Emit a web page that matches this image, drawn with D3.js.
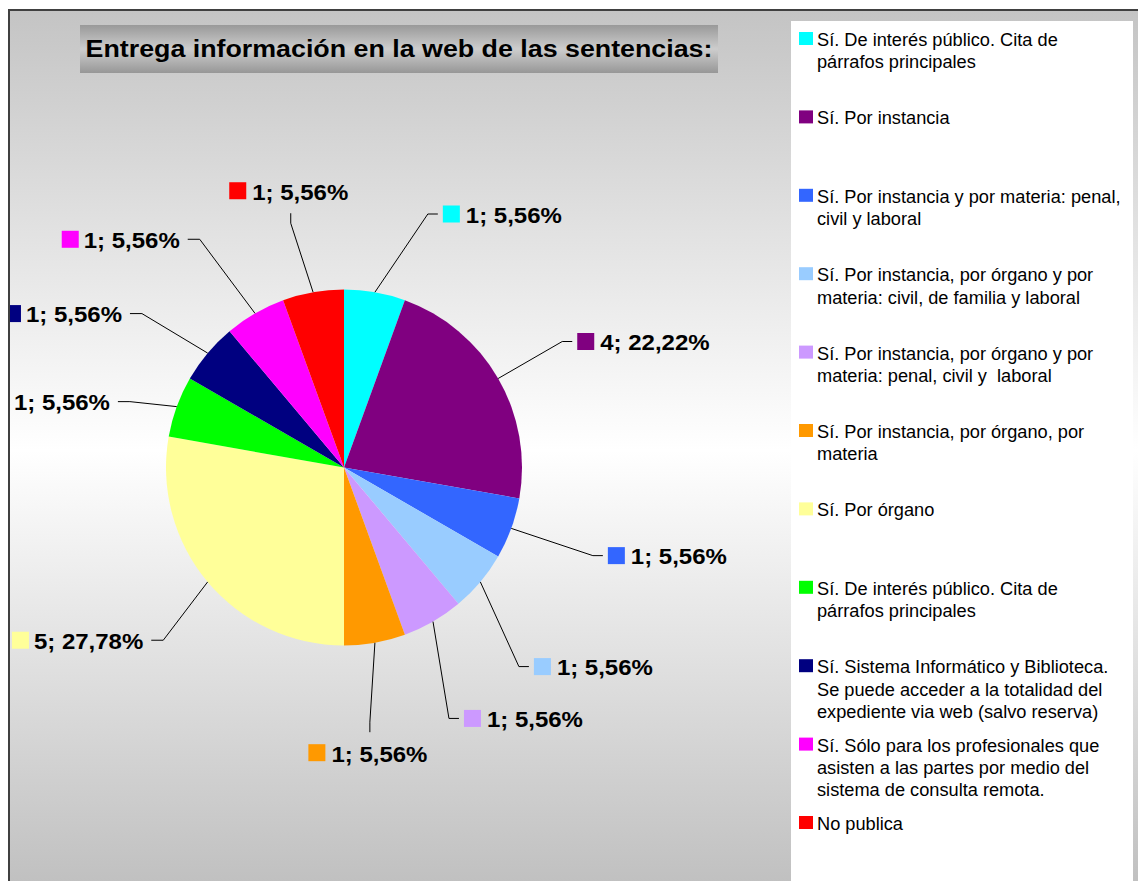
<!DOCTYPE html>
<html>
<head>
<meta charset="utf-8">
<script src="https://cdn.jsdelivr.net/npm/d3@7"></script>
<style>
  html, body { margin: 0; padding: 0; background: #ffffff; }
  svg { display: block; font-family: "Liberation Sans", Arial, sans-serif; }
</style>
</head>
<body>
<svg id="chart" width="1138" height="881"></svg>
<script>
// ---------------- data ----------------
const title = "Entrega información en la web de las sentencias:";
const categories = [
  "Sí. De interés público. Cita de\npárrafos principales",
  "Sí. Por instancia",
  "Sí. Por instancia y por materia: penal,\ncivil y laboral",
  "Sí. Por instancia, por órgano y por\nmateria: civil, de familia y laboral",
  "Sí. Por instancia, por órgano y por\nmateria: penal, civil y  laboral",
  "Sí. Por instancia, por órgano, por\nmateria",
  "Sí. Por órgano",
  "Sí. De interés público. Cita de\npárrafos principales",
  "Sí. Sistema Informático y Biblioteca.\nSe puede acceder a la totalidad del\nexpediente via web (salvo reserva)",
  "Sí. Sólo para los profesionales que\nasisten a las partes por medio del\nsistema de consulta remota.",
  "No publica"
];
const values = [1, 4, 1, 1, 1, 1, 5, 1, 1, 1, 1];
const colors = ["#00FFFF", "#800080", "#3366FF", "#99CCFF", "#CC99FF", "#FF9900",
                "#FFFF99", "#00FF00", "#000080", "#FF00FF", "#FF0000"];

// label placement (layout only): angle nudge in degrees from slice mid-angle, elbow radius, mode
const labelNudge  = [8.3, 0, -0.5, 8.7, 7.3, 4.2, -3.7, -2.9, -2.7, -2.3, -2.3];
const labelRadius = [267, 252, 264, 265, 272, 256, 250, 224, 254, 270, 250];
const labelMode   = ["h", "h", "h", "h", "h", "below", "h", "h", "h", "h", "above"];

// ---------------- layout ----------------
const svg = d3.select("#chart");
const W = 1138, H = 881;
const cx = 344, cy = 467.5, R = 178;

const defs = svg.append("defs");
const bg = defs.append("linearGradient").attr("id", "bgGrad")
  .attr("x1", 0).attr("y1", 0).attr("x2", 0).attr("y2", 1);
bg.append("stop").attr("offset", "0%").attr("stop-color", "#c4c4c4");
bg.append("stop").attr("offset", "50%").attr("stop-color", "#ffffff");
bg.append("stop").attr("offset", "100%").attr("stop-color", "#bfbfbf");

const tg = defs.append("linearGradient").attr("id", "titleGrad")
  .attr("x1", 0).attr("y1", 0).attr("x2", 0).attr("y2", 1);
tg.append("stop").attr("offset", "0%").attr("stop-color", "#999999");
tg.append("stop").attr("offset", "50%").attr("stop-color", "#cdcdcd");
tg.append("stop").attr("offset", "100%").attr("stop-color", "#979797");

defs.append("clipPath").attr("id", "areaClip")
  .append("rect").attr("x", 10).attr("y", 11).attr("width", W - 10).attr("height", H - 11);

// chart area background
svg.append("rect").attr("x", 9).attr("y", 10).attr("width", W).attr("height", H)
  .attr("fill", "url(#bgGrad)");

// legend box
svg.append("rect").attr("x", 791).attr("y", 21).attr("width", 342).attr("height", H)
  .attr("fill", "#ffffff");

function stretch(sel, k) {
  sel.each(function () {
    const w = this.getComputedTextLength();
    this.setAttribute("textLength", w * k);
    this.setAttribute("lengthAdjust", "spacingAndGlyphs");
    this.__w = w * k;
  });
}

// title
svg.append("rect").attr("x", 80).attr("y", 25).attr("width", 638).attr("height", 48)
  .attr("fill", "url(#titleGrad)");
const titleText = svg.append("text")
  .attr("x", 399).attr("y", 57).attr("text-anchor", "middle")
  .attr("font-size", 23).attr("font-weight", "bold").attr("fill", "#000")
  .text(title);
stretch(titleText, 1.165);

// pie
const total = d3.sum(values);
const pie = d3.pie().sort(null).value(d => d)(values);
const arc = d3.arc().innerRadius(0).outerRadius(R);
const g = svg.append("g").attr("transform", `translate(${cx},${cy})`);
g.selectAll("path.slice").data(pie).join("path")
  .attr("class", "slice")
  .attr("d", arc)
  .attr("fill", (d, i) => colors[i]);

// labels
const fmt = d3.format(".2f");
const labelText = (v) => `${v}; ${fmt(v / total * 100).replace(".", ",")}%`;
const labelLayer = svg.append("g").attr("clip-path", "url(#areaClip)")
  .append("g").attr("transform", `translate(${cx},${cy})`);

const polar = (a, r) => [Math.sin(a) * r, -Math.cos(a) * r];
const SQ = 17;

pie.forEach((d, i) => {
  const mid = (d.startAngle + d.endAngle) / 2;
  const start = polar(mid, R);
  const elbow = polar(mid + labelNudge[i] * Math.PI / 180, labelRadius[i]);
  const mode = labelMode[i];
  const lg = labelLayer.append("g");
  let pts;
  const txt = lg.append("text")
    .attr("font-size", 22).attr("font-weight", "bold").attr("fill", "#000")
    .text(labelText(values[i]));
  stretch(txt, 1.09);
  const tw = txt.node().__w;
  if (mode === "h") {
    const right = elbow[0] > 0;
    const tickEnd = [elbow[0] + (right ? 10 : -12), elbow[1]];
    pts = [start, elbow, tickEnd];
    if (right) {
      const sx = tickEnd[0] + 5;
      lg.append("rect").attr("x", sx).attr("y", elbow[1] - 8.5).attr("width", SQ).attr("height", SQ)
        .attr("fill", colors[i]);
      txt.attr("x", sx + SQ + 6).attr("y", elbow[1] + 8.5);
    } else {
      const tx = tickEnd[0] - 8 - tw;
      txt.attr("x", tx).attr("y", elbow[1] + 8.5);
      lg.append("rect").attr("x", tx - 5 - SQ).attr("y", elbow[1] - 8.5).attr("width", SQ).attr("height", SQ)
        .attr("fill", colors[i]);
    }
  } else {
    const up = mode === "above";
    const tickEnd = [elbow[0], elbow[1] + (up ? -10 : 10)];
    pts = [start, elbow, tickEnd];
    const gw = SQ + 6 + tw;
    const gx = elbow[0] - gw / 2 - 2;
    const sqTop = up ? tickEnd[1] - 14 - SQ : tickEnd[1] + 12;
    lg.append("rect").attr("x", gx).attr("y", sqTop).attr("width", SQ).attr("height", SQ)
      .attr("fill", colors[i]);
    txt.attr("x", gx + SQ + 6).attr("y", sqTop + SQ + 0.5);
  }
  lg.insert("polyline", ":first-child")
    .attr("points", pts.map(p => p.join(",")).join(" "))
    .attr("fill", "none").attr("stroke", "#000").attr("stroke-width", 1);
});

// legend
const legend = svg.append("g");
const legStep = 78.4, legTop = 46, lineH = 22.3;
categories.forEach((c, i) => {
  const by = legTop + i * legStep;
  legend.append("rect").attr("x", 799).attr("y", by - 14).attr("width", 14).attr("height", 13)
    .attr("fill", colors[i]);
  c.split("\n").forEach((line, j) => {
    const t = legend.append("text").attr("x", 817).attr("y", by + j * lineH)
      .attr("font-size", 17.5).attr("fill", "#000")
      .style("white-space", "pre")
      .text(line);
    stretch(t, 1.04);
  });
});

// chart-area border (top & left visible)
svg.append("rect").attr("x", 9).attr("y", 10).attr("width", W + 10).attr("height", H + 10)
  .attr("fill", "none").attr("stroke", "#404040").attr("stroke-width", 2);
</script>
</body>
</html>
